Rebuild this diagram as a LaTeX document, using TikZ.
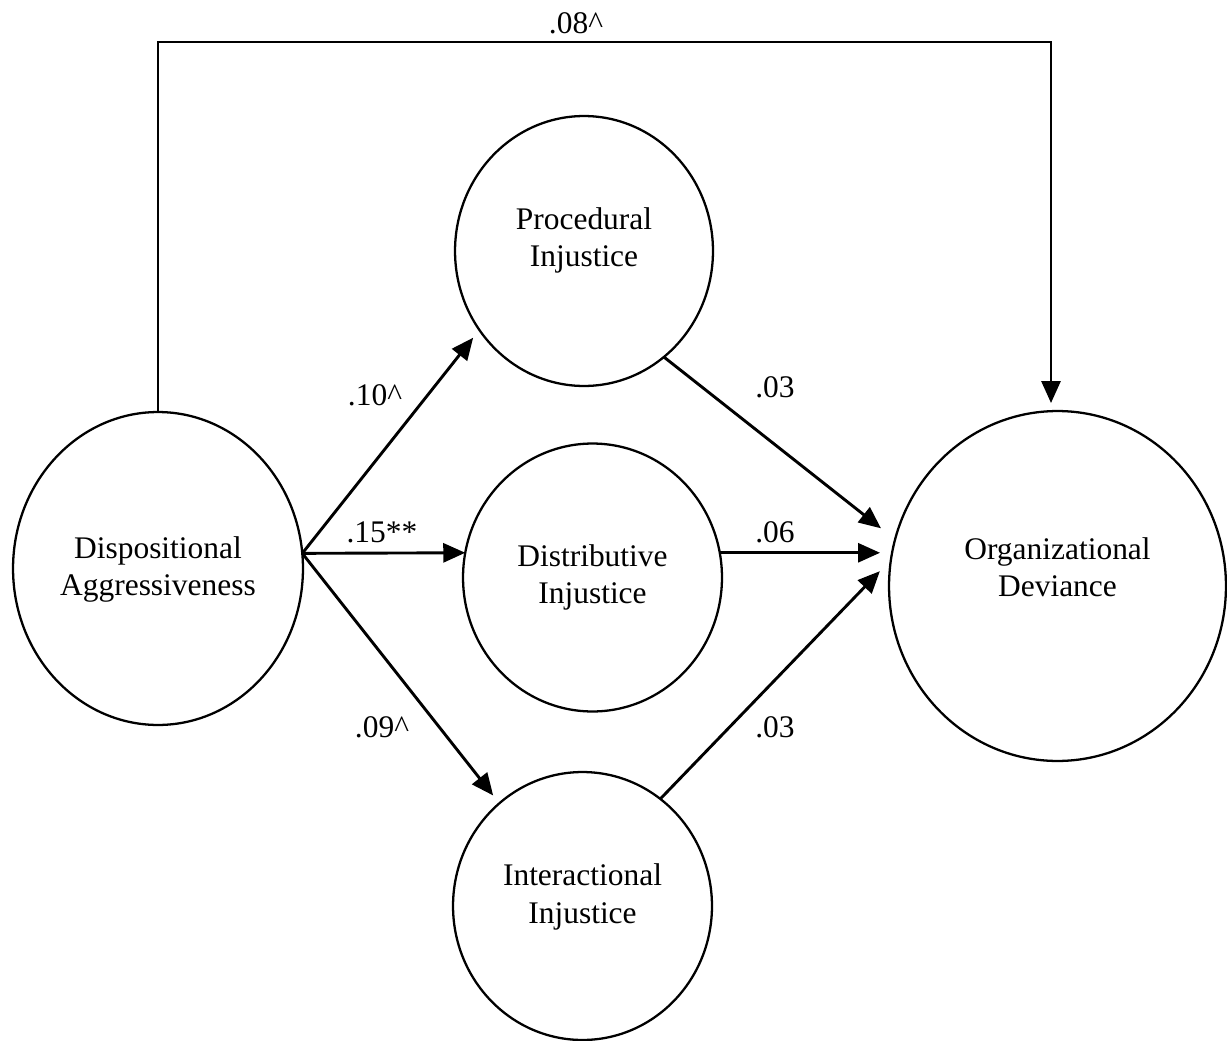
\documentclass[tikz,border=0pt]{standalone}
\usepackage{fontspec}
\setmainfont{Liberation Serif}
\usepackage{tikz}
\usetikzlibrary{shapes.geometric, arrows.meta}
\tikzstyle{construct} = [ellipse, draw=black, line width=1.3pt, inner sep=0pt, outer sep=0pt]
\tikzstyle{cname} = [align=center, inner sep=0pt, font=\fontsize{17.9}{21.3}\selectfont]
\tikzstyle{coef} = [inner sep=0pt, font=\fontsize{17.9}{21.3}\selectfont]
\tikzstyle{link} = [-{Triangle[length=0.44cm, width=0.38cm]}, line width=1.65pt]

\begin{document}
\begin{tikzpicture}[x=0.02cm, y=-0.02cm]
    \useasboundingbox (0,0) rectangle (1227,1041);
    % Constructs
    \node[construct, minimum width=5.8cm, minimum height=6.26cm] (disp) at (158,568.5) {};
    \node[construct, minimum width=5.16cm, minimum height=5.4cm] (proc) at (584,251) {};
    \node[construct, minimum width=5.18cm, minimum height=5.36cm] (dist) at (592.5,577.5) {};
    \node[construct, minimum width=5.18cm, minimum height=5.36cm] (inter) at (582.5,906) {};
    \node[construct, minimum width=6.74cm, minimum height=7cm] (org) at (1057.5,586) {};
    \node[cname] (disptext) at (158,569.5) {Dispositional\\Aggressiveness};
    \node[cname] (proctext) at (584,240.5) {Procedural\\Injustice};
    \node[cname] (disttext) at (592.5,577.5) {Distributive\\Injustice};
    \node[cname] (intertext) at (582.5,897) {Interactional\\Injustice};
    \node[cname] (orgtext) at (1057.5,567) {Organizational\\Deviance};
    
    % Paths
    \coordinate (split) at (disp.6);
    \coordinate (corner) at (1051,42);
    \draw[link, shorten >=0.2cm] (split) -- (proc.217);
    \draw[link] (split) -- (dist.169);
    \draw[link, shorten >=0.2cm] (split) -- (inter.129);
    \draw[link, shorten >=0.36cm] (proc.307) -- (org.164);
    \draw[link, shorten >=0.18cm] (dist.11) -- (dist.11 -| org.west);
    \draw[link, shorten >=0.32cm] (inter.54) -- (org.171);
    \draw[link, shorten >=0.16cm] (disp.north) |- (corner) -- (corner |- org.north);
    
    % Coefficients
    \node[coef] (c08) at (576,23) {.08\textasciicircum};
    \node[coef] (c10) at (375,395) {.10\textasciicircum};
    \node[coef] (c15) at (382,532) {.15**};
    \node[coef] (c09) at (382,727) {.09\textasciicircum};
    \node[coef] (c03a) at (775,387) {.03};
    \node[coef] (c06) at (775,532) {.06};
    \node[coef] (c03b) at (775,727) {.03};
\end{tikzpicture}
\end{document}
